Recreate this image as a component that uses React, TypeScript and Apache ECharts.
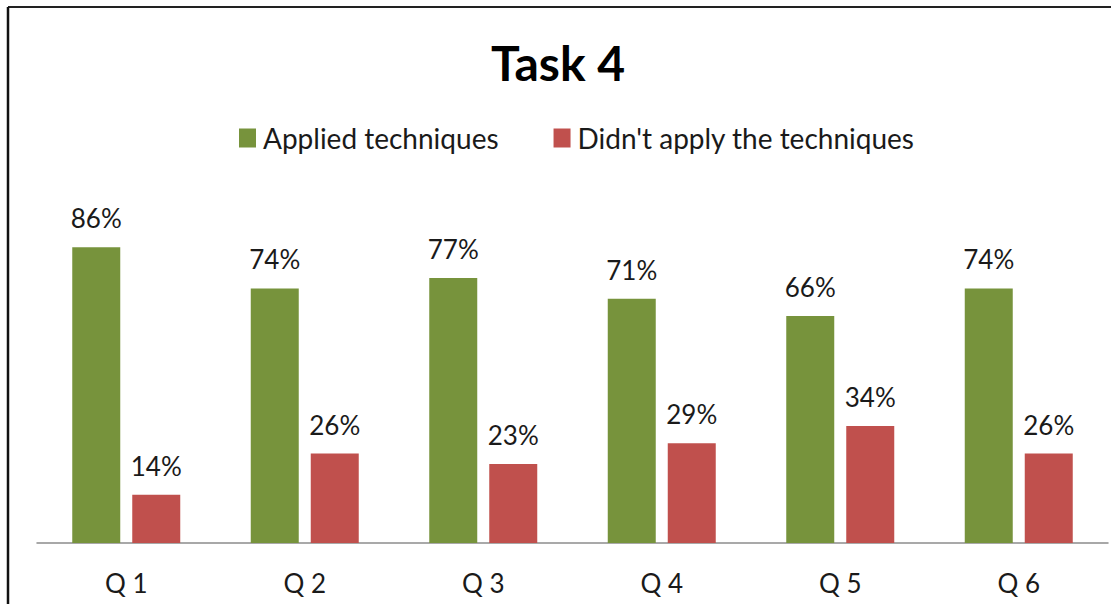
import React, { useEffect, useRef } from "react";
import * as echarts from "echarts";

const categories = ["Q 1", "Q 2", "Q 3", "Q 4", "Q 5", "Q 6"];
const applied = [86, 74, 77, 71, 66, 74];
const notApplied = [14, 26, 23, 29, 34, 26];
const seriesNames = ["Applied techniques", "Didn't apply the techniques"];

const FONT = "Lato, 'Open Sans', sans-serif";

export default function App() {
  const ref = useRef<HTMLDivElement>(null);
  useEffect(() => {
    if (!ref.current) return;
    const chart = echarts.init(ref.current, undefined, { renderer: "svg" });
    const label = {
      show: true,
      position: "top",
      distance: 16,
      formatter: "{c}%",
      color: "#1a1a1a",
      fontSize: 26,
      fontFamily: FONT,
    };
    chart.setOption({
      animation: false,
      backgroundColor: "#ffffff",
      title: {
        text: "Task 4",
        left: 558,
        textAlign: "center",
        top: 38,
        padding: 0,
        textStyle: { fontSize: 48, fontWeight: "bold", fontFamily: FONT, color: "#000" },
      },
      legend: {
        data: seriesNames,
        left: 239,
        top: 124,
        padding: 0,
        icon: "rect",
        itemWidth: 17,
        itemHeight: 19,
        itemGap: 55,
        textStyle: { fontSize: 28, fontFamily: FONT, color: "#1a1a1a", padding: [0, 0, 0, 2] },
      },
      grid: { left: 37, right: 3, top: 199, bottom: 61, containLabel: false },
      xAxis: {
        type: "category",
        data: categories,
        axisLine: { lineStyle: { color: "#8c8c8c", width: 1.5 } },
        axisTick: { show: false },
        axisLabel: { fontSize: 26, fontFamily: FONT, color: "#1a1a1a", margin: 27 },
      },
      yAxis: {
        type: "value",
        min: 0,
        max: 100,
        show: false,
        splitLine: { show: false },
      },
      series: [
        {
          name: seriesNames[0],
          type: "bar",
          data: applied,
          barWidth: 48,
          barGap: "25%",
          itemStyle: { color: "#77933C" },
          label,
        },
        {
          name: seriesNames[1],
          type: "bar",
          data: notApplied,
          barWidth: 48,
          itemStyle: { color: "#C0504D" },
          label,
        },
      ],
      graphic: [
        { type: "line", shape: { x1: 8, y1: 7, x2: 1111, y2: 7 }, style: { stroke: "#222", lineWidth: 2 } },
        { type: "line", shape: { x1: 8, y1: 7, x2: 8, y2: 604 }, style: { stroke: "#111", lineWidth: 2.5 } },
      ],
    });
    return () => chart.dispose();
  }, []);
  return (
    <div
      ref={ref}
      style={{ position: "fixed", left: 0, top: 0, width: 1111, height: 604 }}
    />
  );
}
